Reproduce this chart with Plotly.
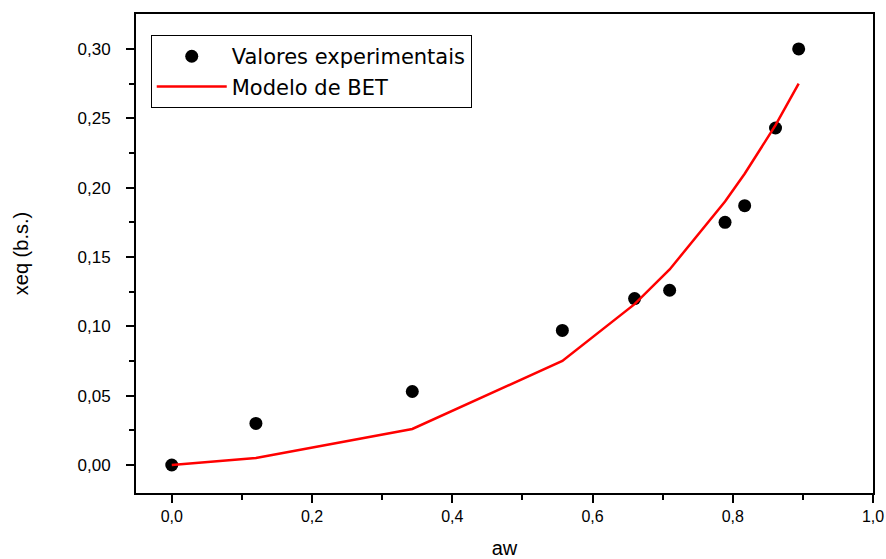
import plotly.graph_objects as go

aw_exp = [0.0, 0.12, 0.343, 0.557, 0.66, 0.71, 0.789, 0.817, 0.861, 0.894]
xeq_exp = [0.0, 0.030, 0.053, 0.097, 0.120, 0.126, 0.175, 0.187, 0.243, 0.300]

aw_bet = [0.0, 0.12, 0.343, 0.557, 0.66, 0.71, 0.789, 0.817, 0.861, 0.894]
xeq_bet = [0.0, 0.005, 0.026, 0.075, 0.116, 0.141, 0.190, 0.210, 0.245, 0.275]

FONT = "Liberation Sans, Arial, sans-serif"
LEGFONT = "DejaVu Sans, Liberation Sans, sans-serif"

fig = go.Figure()
fig.add_trace(go.Scatter(
    x=aw_exp, y=xeq_exp, mode="markers", name="Valores experimentais",
    marker=dict(color="black", size=13, symbol="circle"),
))
fig.add_trace(go.Scatter(
    x=aw_bet, y=xeq_bet, mode="lines", name="Modelo de BET",
    line=dict(color="#ff0000", width=2.5),
))

axis_common = dict(
    showgrid=False, zeroline=False, showline=True, linecolor="black",
    linewidth=2, mirror=True, ticks="outside", tickcolor="black",
    tickwidth=2, ticklen=8, automargin=False,
)

fig.update_layout(
    width=886, height=559,
    margin=dict(l=136, r=13, t=14, b=66),
    paper_bgcolor="white", plot_bgcolor="white",
    separators=",.",
    font=dict(family=FONT, color="black"),
    xaxis=dict(
        range=[-0.051, 1.0], tickvals=[0, 0.2, 0.4, 0.6, 0.8, 1.0],
        tickformat=".1f",
        tickfont=dict(family=FONT, size=16, color="black"),
        minor=dict(tickvals=[0.1, 0.3, 0.5, 0.7, 0.9], ticks="outside",
                   ticklen=5, tickwidth=2, tickcolor="black"),
        title=dict(text="aw", font=dict(family=FONT, size=20), standoff=20),
        **axis_common,
    ),
    yaxis=dict(
        range=[-0.0202, 0.3252], tickvals=[0, 0.05, 0.10, 0.15, 0.20, 0.25, 0.30],
        tickformat=".2f", ticklabelstandoff=12,
        tickfont=dict(family=FONT, size=17, color="black"),
        minor=dict(tickvals=[0.025, 0.075, 0.125, 0.175, 0.225, 0.275],
                   ticks="outside", ticklen=5, tickwidth=2, tickcolor="black"),
        title=dict(text="xeq (b.s.)", font=dict(family=FONT, size=20), standoff=44),
        **axis_common,
    ),
    legend=dict(
        x=0.02, y=0.956, xanchor="left", yanchor="top",
        bordercolor="black", borderwidth=1, bgcolor="white",
        font=dict(family=LEGFONT, size=21, color="black"),
        tracegroupgap=0, itemwidth=70,
    ),
    showlegend=True,
)

fig.write_html("out.html")
